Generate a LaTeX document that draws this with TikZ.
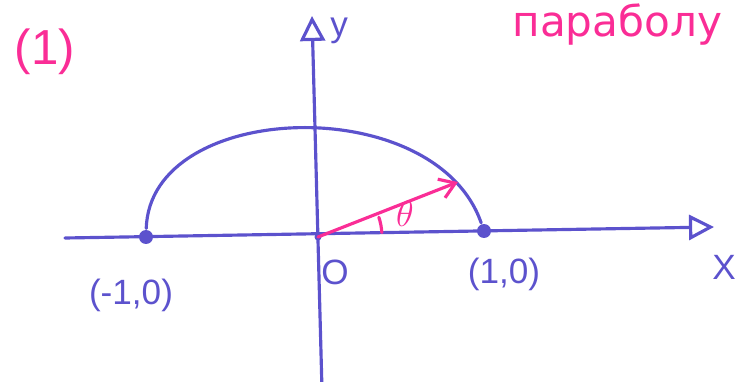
\documentclass[tikz,border=0pt]{standalone}
\usepackage{fontspec}
\setmainfont{Liberation Sans}
\newfontfamily\cyrfont{DejaVu Sans}
\usetikzlibrary{arrows.meta,positioning}
\definecolor{ink}{RGB}{92,82,205}
\definecolor{pink}{RGB}{250,45,150}
\begin{document}
\begin{tikzpicture}[x=0.02cm,y=-0.02cm,line width=1.8pt,line cap=round,node distance=4mm,
  axis/.style={draw=ink,-{Triangle[open,length=5mm,width=5mm]}},
  dot/.style={circle,fill=ink,inner sep=0pt,minimum size=2.8mm},
  lbl/.style={text=ink,font=\fontsize{20}{24}\selectfont,inner sep=1pt}]
\useasboundingbox (0,0) rectangle (755,382);
\clip (0,0) rectangle (755,382);
\coordinate (O) at (318,237);
\coordinate (xl) at (65,238); \coordinate (xr) at (714,227);
\coordinate (yb) at (322,390); \coordinate (yt) at (312,16);
\draw[axis] (xl) -- (xr);
\draw[axis] (yb) -- (yt);
\node[dot] (A) at (146,237) {};
\node[dot] (B) at (484,231) {};
\node[dot,minimum size=1.4mm] (Od) at (O) {};
\draw[ink] (A) .. controls (150,100) and (435,90) .. (B);
% vector and angle
\coordinate (P) at (458,182);
\draw[pink,-{Straight Barb[length=3mm,width=4mm]}] (O) -- (P);
\draw[pink] (O) ++(-4:64) arc[start angle=-4,end angle=-18,radius=64];
\node[text=pink,font=\fontsize{22}{26}\selectfont] (th) at (405,214) {$\theta$};
% labels
\node[lbl,below=6mm of A,xshift=-3mm] (Al) {(-1,0)};
\node[lbl,below=3mm of B,xshift=4mm] (Bl) {(1,0)};
\node[lbl,below right=4mm and 0mm of O] (Ol) {O};
\node[lbl,below=5mm of xr,xshift=2mm] (xlab) {X};
\node[lbl,right=3mm of yt,yshift=-3mm] (ylab) {y};
\node[text=pink,font=\fontsize{28}{32}\selectfont] (num) at (45,52) {(1)};
\node[text=pink,font=\cyrfont\fontsize{24}{28}\selectfont,anchor=base west] (top) at (505,36) {параболу};
\end{tikzpicture}
\end{document}
